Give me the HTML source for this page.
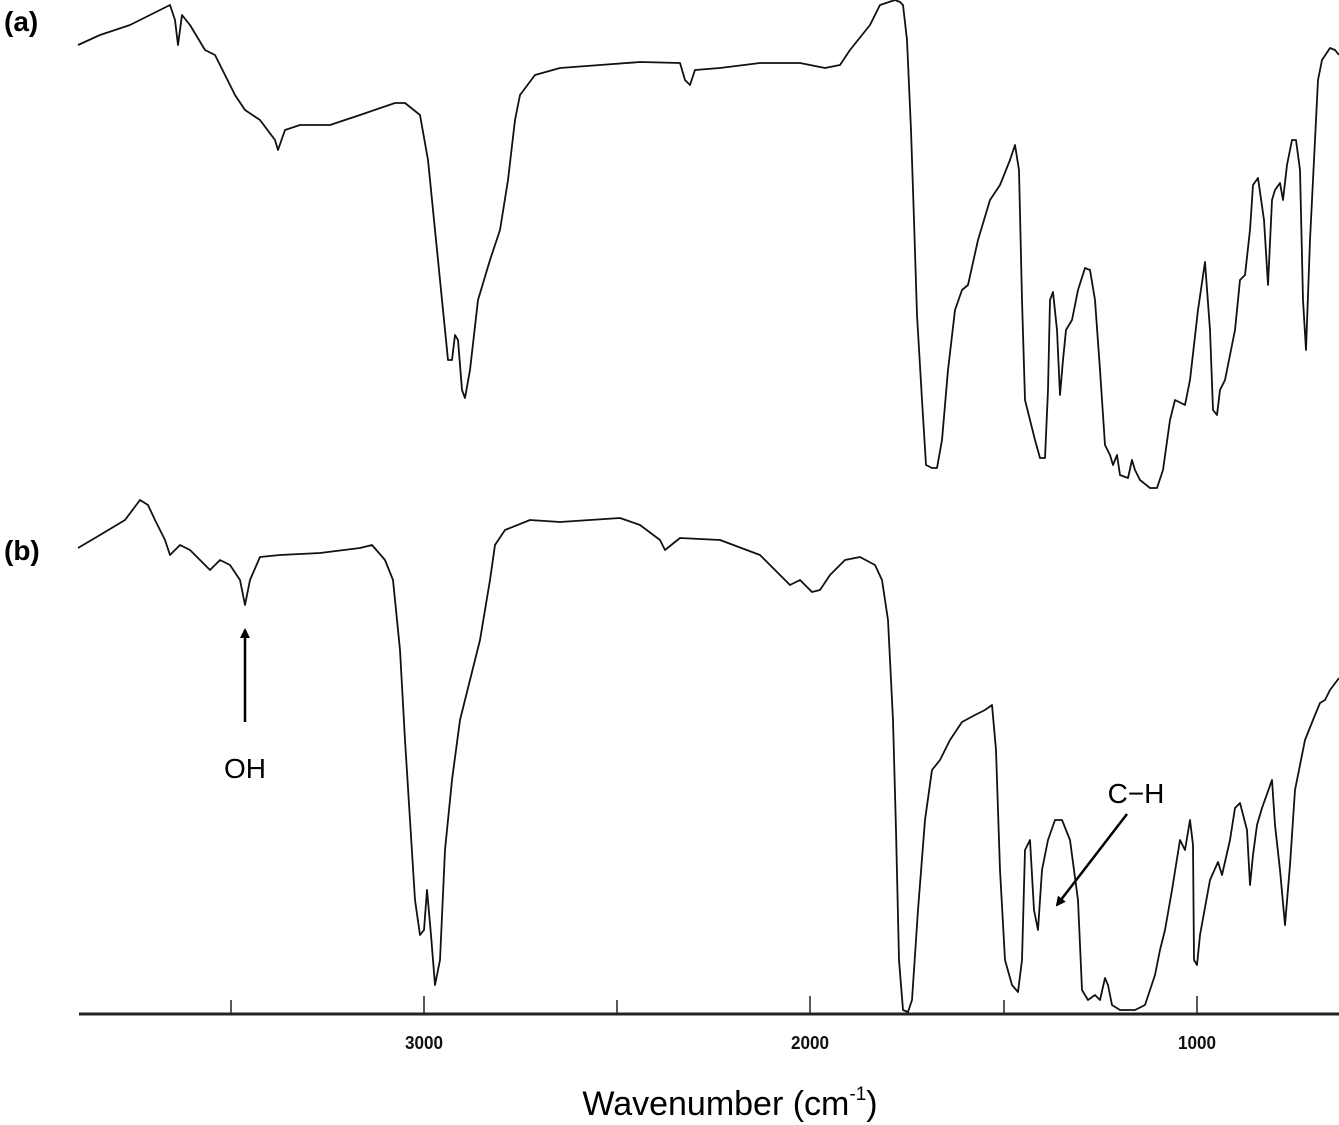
<!DOCTYPE html>
<html><head><meta charset="utf-8"><style>
body{margin:0;background:#fff;}
svg{display:block;font-family:"Liberation Sans",sans-serif;}
</style></head><body>
<svg width="1339" height="1125" viewBox="0 0 1339 1125">
<defs><marker id="ah" markerWidth="10" markerHeight="10" refX="8" refY="5" orient="auto" markerUnits="userSpaceOnUse"><path d="M0,0 L10,5 L0,10 z" fill="#000"/></marker></defs>
<text x="4" y="31" font-size="28" font-weight="bold">(a)</text>
<text x="4" y="560" font-size="28" font-weight="bold">(b)</text>
<polyline fill="none" stroke="#111" stroke-width="1.8" stroke-linejoin="round" points="78,45 100,35 130,25 170,5 175,20 178,45 182,15 190,25 205,50 215,55 225,75 235,95 245,110 260,120 275,140 278,150 285,130 300,125 330,125 360,115 395,103 405,103 420,115 428,160 435,230 442,300 448,360 452,360 455,335 458,340 462,390 465,398 470,370 478,300 490,260 500,230 508,180 515,120 520,95 535,75 560,68 600,65 640,62 680,63 685,80 690,85 695,70 720,68 760,63 800,63 825,68 840,65 850,50 870,25 880,5 895,0 900,2 903,5 907,40 911,130 914,220 917,315 922,400 926,465 932,468 937,468 942,440 948,370 955,310 962,290 968,285 978,240 990,200 1000,185 1010,160 1015,145 1019,170 1022,300 1025,400 1030,420 1035,440 1040,458 1045,458 1048,390 1050,300 1053,292 1057,330 1060,395 1063,360 1066,330 1072,320 1078,290 1085,268 1090,270 1095,300 1100,370 1105,445 1110,455 1113,465 1117,455 1120,475 1128,478 1132,460 1135,470 1140,480 1150,488 1157,488 1163,470 1170,420 1175,400 1185,405 1190,380 1198,310 1205,262 1210,330 1213,410 1217,415 1220,390 1225,380 1235,330 1240,280 1245,275 1250,230 1253,185 1258,178 1264,220 1268,285 1272,200 1275,190 1280,183 1283,200 1287,165 1292,140 1296,140 1300,170 1303,300 1306,350 1310,240 1315,140 1318,80 1322,60 1330,48 1335,50 1339,55"/>
<polyline fill="none" stroke="#111" stroke-width="1.8" stroke-linejoin="round" points="78,548 100,535 125,520 140,500 148,505 155,520 165,540 170,555 180,545 190,550 200,560 210,570 220,560 230,565 240,580 245,605 250,580 260,557 280,555 320,553 360,548 372,545 385,560 393,580 400,650 405,740 410,820 415,900 420,935 424,930 427,890 431,935 435,985 440,960 445,850 452,780 460,720 470,680 480,640 490,580 495,545 505,530 530,520 560,522 590,520 620,518 640,525 660,540 665,550 680,538 720,540 760,555 790,585 800,580 812,592 820,590 830,575 845,560 860,557 875,565 882,580 888,620 893,720 896,830 899,960 903,1010 908,1012 912,1000 918,910 925,820 932,770 940,760 950,740 962,722 975,715 985,710 992,705 996,750 1000,870 1005,960 1012,985 1018,992 1022,960 1025,850 1030,840 1034,910 1038,930 1042,870 1048,840 1055,820 1062,820 1070,840 1078,900 1082,990 1088,1000 1095,995 1100,1000 1105,978 1108,985 1112,1005 1120,1010 1135,1010 1145,1005 1155,975 1160,950 1165,930 1172,890 1180,840 1185,850 1190,820 1193,845 1194,960 1197,965 1200,935 1210,880 1218,862 1222,875 1230,840 1235,808 1240,803 1247,830 1250,885 1253,855 1257,825 1262,808 1272,780 1275,825 1280,870 1285,925 1290,865 1295,790 1305,740 1315,715 1320,703 1325,700 1330,690 1339,678"/>
<line x1="79" y1="1014" x2="1339" y2="1014" stroke="#222" stroke-width="3"/>
<g stroke="#222" stroke-width="1.5">
<line x1="231" y1="1000" x2="231" y2="1014"/><line x1="424" y1="996" x2="424" y2="1014"/>
<line x1="617" y1="1000" x2="617" y2="1014"/><line x1="810" y1="996" x2="810" y2="1014"/>
<line x1="1004" y1="1000" x2="1004" y2="1014"/><line x1="1197" y1="996" x2="1197" y2="1014"/>
</g>
<g font-size="18" font-weight="bold" text-anchor="middle" fill="#111">
<text x="424" y="1049" textLength="38" lengthAdjust="spacingAndGlyphs">3000</text><text x="810" y="1049" textLength="38" lengthAdjust="spacingAndGlyphs">2000</text><text x="1197" y="1049" textLength="38" lengthAdjust="spacingAndGlyphs">1000</text>
</g>
<text x="730" y="1115" font-size="34" text-anchor="middle">Wavenumber (cm<tspan font-size="19" dy="-15">-1</tspan><tspan dy="15">)</tspan></text>
<line x1="245" y1="722" x2="245" y2="630" stroke="#000" stroke-width="2.5" marker-end="url(#ah)"/>
<text x="245" y="778" font-size="28" text-anchor="middle">OH</text>
<line x1="1127" y1="814" x2="1057" y2="905" stroke="#000" stroke-width="2.5" marker-end="url(#ah)"/>
<text x="1136" y="803" font-size="28" text-anchor="middle">C−H</text>
</svg>
</body></html>
